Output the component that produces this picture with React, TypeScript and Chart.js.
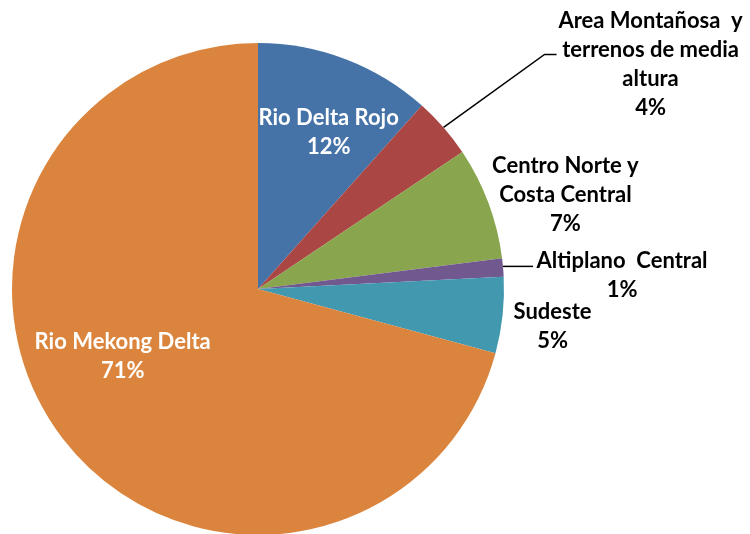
import React, { useEffect, useRef } from "react";
import { Chart, registerables } from "chart.js";

Chart.register(...registerables);

const regions = [
  "Rio Delta Rojo",
  "Area Montañosa y terrenos de media altura",
  "Centro Norte y Costa Central",
  "Altiplano Central",
  "Sudeste",
  "Rio Mekong Delta",
];
const shares = [11.6, 4.0, 7.4, 1.2, 5.0, 70.8];
const labelLines = [
  ["Rio Delta Rojo"],
  ["Area Montañosa  y", "terrenos de media", "altura"],
  ["Centro Norte y", "Costa Central"],
  ["Altiplano  Central"],
  ["Sudeste"],
  ["Rio Mekong Delta"],
];
const colors = ["#4572A7", "#AA4643", "#89A54E", "#71588F", "#4198AF", "#DB843D"];

// label layout: offsets relative to the slice's outer mid-point (pixels)
const labelStyle = [
  { dx: -17, dy: 59, color: "#ffffff", leader: null },
  { dx: 207, dy: -107, color: "#000000", leader: [[0, 0], [101, -73], [113, -73]] },
  { dx: 77, dy: -37, color: "#000000", leader: null },
  { dx: 119, dy: -6, color: "#000000", leader: [[0, -1], [30, -1]] },
  { dx: 50, dy: -3, color: "#000000", leader: null },
  { dx: 60, dy: -97, color: "#ffffff", leader: null },
];

const labelPlugin = {
  id: "pieLabels",
  afterDatasetsDraw(chart: any) {
    const ctx = chart.ctx;
    const meta = chart.getDatasetMeta(0);
    const data = chart.data.datasets[0].data as number[];
    const total = data.reduce((a: number, b: number) => a + b, 0);
    ctx.save();
    ctx.font = "bold 22px Lato";
    ctx.textAlign = "center";
    ctx.textBaseline = "middle";
    meta.data.forEach((arc: any, i: number) => {
      const p = arc.getProps(["x", "y", "startAngle", "endAngle", "outerRadius"], true);
      const mid = (p.startAngle + p.endAngle) / 2;
      const ex = p.x + Math.cos(mid) * p.outerRadius;
      const ey = p.y + Math.sin(mid) * p.outerRadius;
      const st = labelStyle[i];
      if (st.leader) {
        ctx.beginPath();
        ctx.strokeStyle = "#000000";
        ctx.lineWidth = 1.5;
        st.leader.forEach((pt: number[], k: number) => {
          const px = ex + pt[0];
          const py = ey + pt[1];
          if (k === 0) ctx.moveTo(px, py);
          else ctx.lineTo(px, py);
        });
        ctx.stroke();
      }
      const lines = [...labelLines[i], Math.round((data[i] / total) * 100) + "%"];
      ctx.fillStyle = st.color;
      lines.forEach((ln, k) => {
        ctx.fillText(ln, ex + st.dx, ey + st.dy + k * 29);
      });
    });
    ctx.restore();
  },
};

export default function App() {
  const ref = useRef<HTMLCanvasElement>(null);
  useEffect(() => {
    document.body.style.margin = "0";
    document.body.style.overflow = "hidden";
    const chart = new Chart(ref.current!, {
      type: "pie",
      data: {
        labels: regions,
        datasets: [
          {
            data: shares,
            backgroundColor: colors,
            borderWidth: 0,
            radius: 246,
          },
        ],
      },
      options: {
        responsive: false,
        animation: false,
        layout: { padding: { left: 12, right: 246, top: 44, bottom: 0 } },
        plugins: {
          legend: { display: false },
          tooltip: { enabled: false },
        },
      },
      plugins: [labelPlugin],
    });
    return () => chart.destroy();
  }, []);
  return (
    <div style={{ position: "absolute", left: 0, top: 0, width: 750, height: 534, background: "#ffffff" }}>
      <canvas ref={ref} width={750} height={534} />
    </div>
  );
}
